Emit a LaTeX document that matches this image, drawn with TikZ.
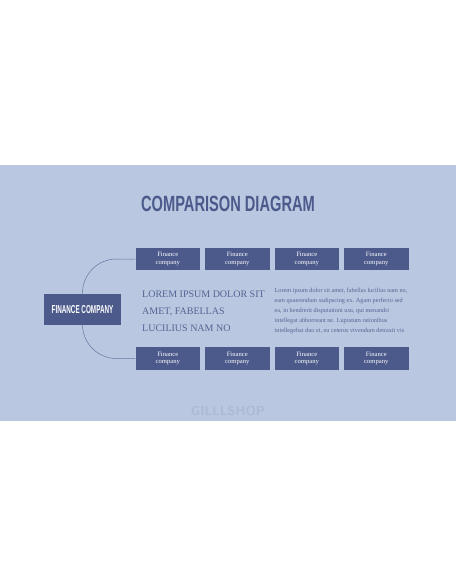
\documentclass[tikz,border=0pt]{standalone}
\usepackage{fontspec}
\setmainfont{Liberation Serif}
\newfontfamily\condfont[FakeStretch=0.665]{Liberation Sans Bold}
\newfontfamily\condfontb[FakeStretch=0.55]{Liberation Sans Bold}
\definecolor{bgc}{RGB}{185,199,224}
\definecolor{boxc}{RGB}{75,89,139}
\definecolor{txtc}{RGB}{85,100,148}
\definecolor{linec}{RGB}{105,118,160}
\definecolor{wmc}{RGB}{172,186,212}
\tikzset{
  fbox/.style={fill=boxc, minimum width=64.5pt, minimum height=22.5pt, inner sep=0pt,
    text=white, align=center, font=\fontsize{6.6}{7.2}\selectfont},
  conn/.style={draw=linec, line width=0.5pt, rounded corners=34pt}
}
\begin{document}
\begin{tikzpicture}[x=1pt,y=-1pt]
\useasboundingbox (0,0) rectangle (456,586);
\fill[white] (0,0) rectangle (456,586);
\fill[bgc] (0,165) rectangle (456,421);
\node[text=boxc, font=\condfont\fontsize{22}{22}\selectfont, inner sep=0pt] (title) at (228,204) {COMPARISON DIAGRAM};
\node[fill=boxc, minimum width=77pt, minimum height=31.5pt, inner sep=0pt, text=white,
  font=\condfontb\fontsize{11.5}{12}\selectfont] (fc) at (82.5,309.5) {FINANCE COMPANY};
\foreach \i/\x in {1/167.75,2/237.25,3/306.75,4/376.25}{
  \node[fbox] (t\i) at (\x,259) {Finance\\company};
  \node[fbox] (b\i) at (\x,358.5) {Finance\\company};
}
\draw[conn] (t1.west) -| (fc.north);
\draw[conn] (b1.west) -| (fc.south);
\node[anchor=north west, text=txtc, align=left, inner sep=0pt,
  font=\fontsize{10}{17}\selectfont] (lorem) at (142,291) {LOREM IPSUM DOLOR SIT\\AMET, FABELLAS\\LUCILIUS NAM NO};
\node[anchor=north west, text=txtc, align=left, inner sep=0pt,
  font=\fontsize{6.2}{10}\selectfont] (para) at (274.5,287.5) {Lorem ipsum dolor sit amet, fabellas lucilius nam no,\\eam quaerendum sadipscing ex. Agam perfecto sed\\ea, in hendrerit disputationi usu, qui menandri\\intellegat abhorreant ne. Luptatum rationibus\\intellegebat duo ei, eu ceteros vivendum detraxit vis};
\node[text=wmc, font=\sffamily\bfseries\fontsize{13}{13}\selectfont, inner sep=0pt] (wm) at (228,411) {GILLLSHOP};
\end{tikzpicture}
\end{document}
